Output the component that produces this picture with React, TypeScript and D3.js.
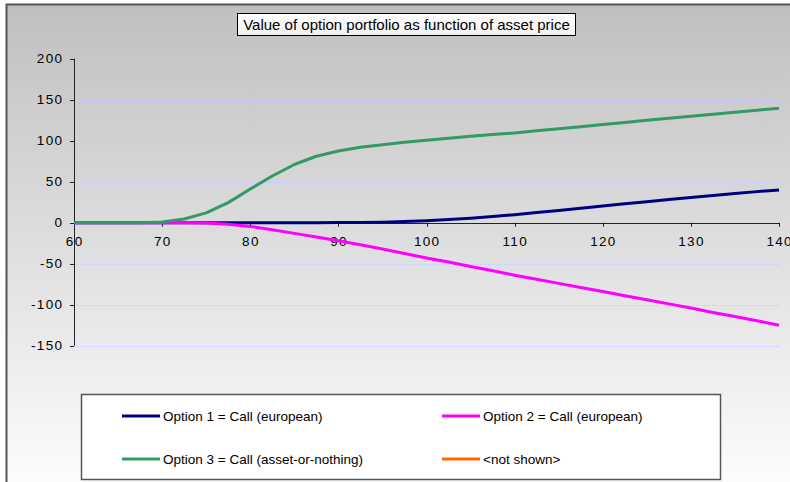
import React from "react";
import * as d3 from "d3";

// Asset prices (x) and portfolio values for each option
const assetPrices = [
  60, 62.5, 65, 67.5, 70, 72.5, 75, 77.5, 80, 82.5, 85, 87.5, 90, 92.5, 95, 97.5,
  100, 102.5, 105, 107.5, 110, 112.5, 115, 117.5, 120, 122.5, 125, 127.5, 130,
  132.5, 135, 137.5, 140,
];
const option1Values = [
  0, 0, 0, 0, 0, 0, 0, 0, 0, 0, 0, 0, 0.1, 0.3, 0.7, 1.4, 2.4, 3.8, 5.5, 7.5,
  9.8, 12.3, 14.9, 17.6, 20.3, 23, 25.6, 28.2, 30.7, 33.2, 35.6, 37.9, 40,
];
const option2Values = [
  0, 0, 0, 0, 0, 0, -0.5, -2, -4.5, -8.5, -13, -17.5, -22, -27, -32, -37.5, -43,
  -48, -53.5, -58.5, -64, -69, -74, -79, -84, -89, -94, -99, -104, -109.5, -114.5,
  -119.5, -125,
];
const option3Values = [
  0, 0, 0, 0, 1, 4.5, 12, 24.5, 41, 57, 71, 81, 87.5, 92, 95, 98, 100.5, 103,
  105.5, 107.5, 109.5, 112, 114.5, 117, 119.8, 122.3, 124.8, 127.3, 129.8, 132.3,
  134.8, 137.2, 139.6,
];

const xTicks = [60, 70, 80, 90, 100, 110, 120, 130, 140];
const yTicks = [200, 150, 100, 50, 0, -50, -100, -150];

const seriesNames = [
  "Option 1 = Call (european)",
  "Option 2 = Call (european)",
  "Option 3 = Call (asset-or-nothing)",
  "<not shown>",
];
const seriesColors = ["#000080", "#ff00ff", "#339966", "#ff6600"];
const seriesValues = [option1Values, option2Values, option3Values];

const chartTitle = "Value of option portfolio as function of asset price";

export default function App() {
  const W = 790;
  const H = 482;
  const x = d3.scaleLinear().domain([60, 140]).range([74, 779]);
  const y = d3.scaleLinear().domain([-150, 200]).range([345.7, 58.7]);
  const font = "'Liberation Sans', Arial, sans-serif";
  const tickFont = 13.5;
  const tickSpacing = 1.3;

  const line = d3
    .line<number>()
    .x((_, i) => x(assetPrices[i]))
    .y((d) => y(d));

  const legendCells = [
    { col: 0, row: 0, idx: 0 },
    { col: 1, row: 0, idx: 1 },
    { col: 0, row: 1, idx: 2 },
    { col: 1, row: 1, idx: 3 },
  ];
  const colX = [122, 442];
  const rowY = [416, 459];

  return (
    <svg
      width={W}
      height={H}
      style={{ position: "absolute", left: 0, top: 0, display: "block" }}
      fontFamily={font}
    >
      <defs>
        <linearGradient id="bg" x1="0" y1="0" x2="0" y2="1">
          <stop offset="0" stopColor="#c0c0c0" />
          <stop offset="1" stopColor="#ffffff" />
        </linearGradient>
        <linearGradient id="titleBg" x1="0" y1="0" x2="0" y2="1">
          <stop offset="0" stopColor="#ffffff" />
          <stop offset="1" stopColor="#f0f0f0" />
        </linearGradient>
      </defs>
      <rect x={0} y={0} width={W} height={H} fill="#ffffff" />
      <rect
        x={6.5}
        y={4.5}
        width={W + 20}
        height={H + 20}
        fill="url(#bg)"
        stroke="#555555"
        strokeWidth={2}
      />

      {/* Gridlines */}
      {yTicks
        .filter((t) => t !== 0)
        .map((t) => (
          <line
            key={"g" + t}
            x1={x(60)}
            x2={x(140)}
            y1={Math.round(y(t)) + 0.5}
            y2={Math.round(y(t)) + 0.5}
            stroke="#c8c8ff"
            strokeWidth={1}
            strokeDasharray="1 1"
          />
        ))}

      {/* Y axis */}
      <line
        x1={x(60) + 0.5}
        x2={x(60) + 0.5}
        y1={y(200)}
        y2={y(-150)}
        stroke="#222"
        strokeWidth={1}
      />
      {yTicks.map((t) => (
        <g key={"yt" + t}>
          <line
            x1={x(60) - 4}
            x2={x(60)}
            y1={Math.round(y(t)) + 0.5}
            y2={Math.round(y(t)) + 0.5}
            stroke="#222"
          />
          <text
            x={62 + tickSpacing}
            y={y(t)}
            dy="0.35em"
            textAnchor="end"
            fontSize={tickFont}
            letterSpacing={tickSpacing}
            fill="#000"
          >
            {t}
          </text>
        </g>
      ))}

      {/* X axis at zero */}
      <line
        x1={x(60)}
        x2={x(140)}
        y1={Math.round(y(0)) + 0.5}
        y2={Math.round(y(0)) + 0.5}
        stroke="#222"
      />
      {xTicks.map((t) => (
        <g key={"xt" + t}>
          <line
            x1={Math.round(x(t)) + 0.5}
            x2={Math.round(x(t)) + 0.5}
            y1={y(0)}
            y2={y(0) + 4}
            stroke="#222"
          />
          <text
            x={x(t) + tickSpacing / 2}
            y={y(0) + 23}
            textAnchor="middle"
            fontSize={tickFont}
            letterSpacing={tickSpacing}
            fill="#000"
          >
            {t}
          </text>
        </g>
      ))}

      {/* Series lines */}
      {seriesValues.map((vals, i) => (
        <path
          key={"s" + i}
          d={line(vals) || ""}
          fill="none"
          stroke={seriesColors[i]}
          strokeWidth={3}
          strokeLinejoin="round"
        />
      ))}

      {/* Title */}
      <rect
        x={237.5}
        y={13.5}
        width={338}
        height={22}
        fill="url(#titleBg)"
        stroke="#000"
        strokeWidth={1}
      />
      <text
        x={406.5}
        y={30}
        textAnchor="middle"
        fontSize={15}
        fill="#000"
      >
        {chartTitle}
      </text>

      {/* Legend */}
      <rect
        x={81.5}
        y={394.5}
        width={639}
        height={85}
        fill="#ffffff"
        stroke="#555555"
        strokeWidth={1.5}
      />
      {legendCells.map((c) => (
        <g key={"l" + c.idx}>
          <line
            x1={colX[c.col]}
            x2={colX[c.col] + 38}
            y1={rowY[c.row]}
            y2={rowY[c.row]}
            stroke={seriesColors[c.idx]}
            strokeWidth={3}
          />
          <text
            x={colX[c.col] + 41}
            y={rowY[c.row]}
            dy="0.35em"
            fontSize={13.5}
            fill="#000"
          >
            {seriesNames[c.idx]}
          </text>
        </g>
      ))}
    </svg>
  );
}
